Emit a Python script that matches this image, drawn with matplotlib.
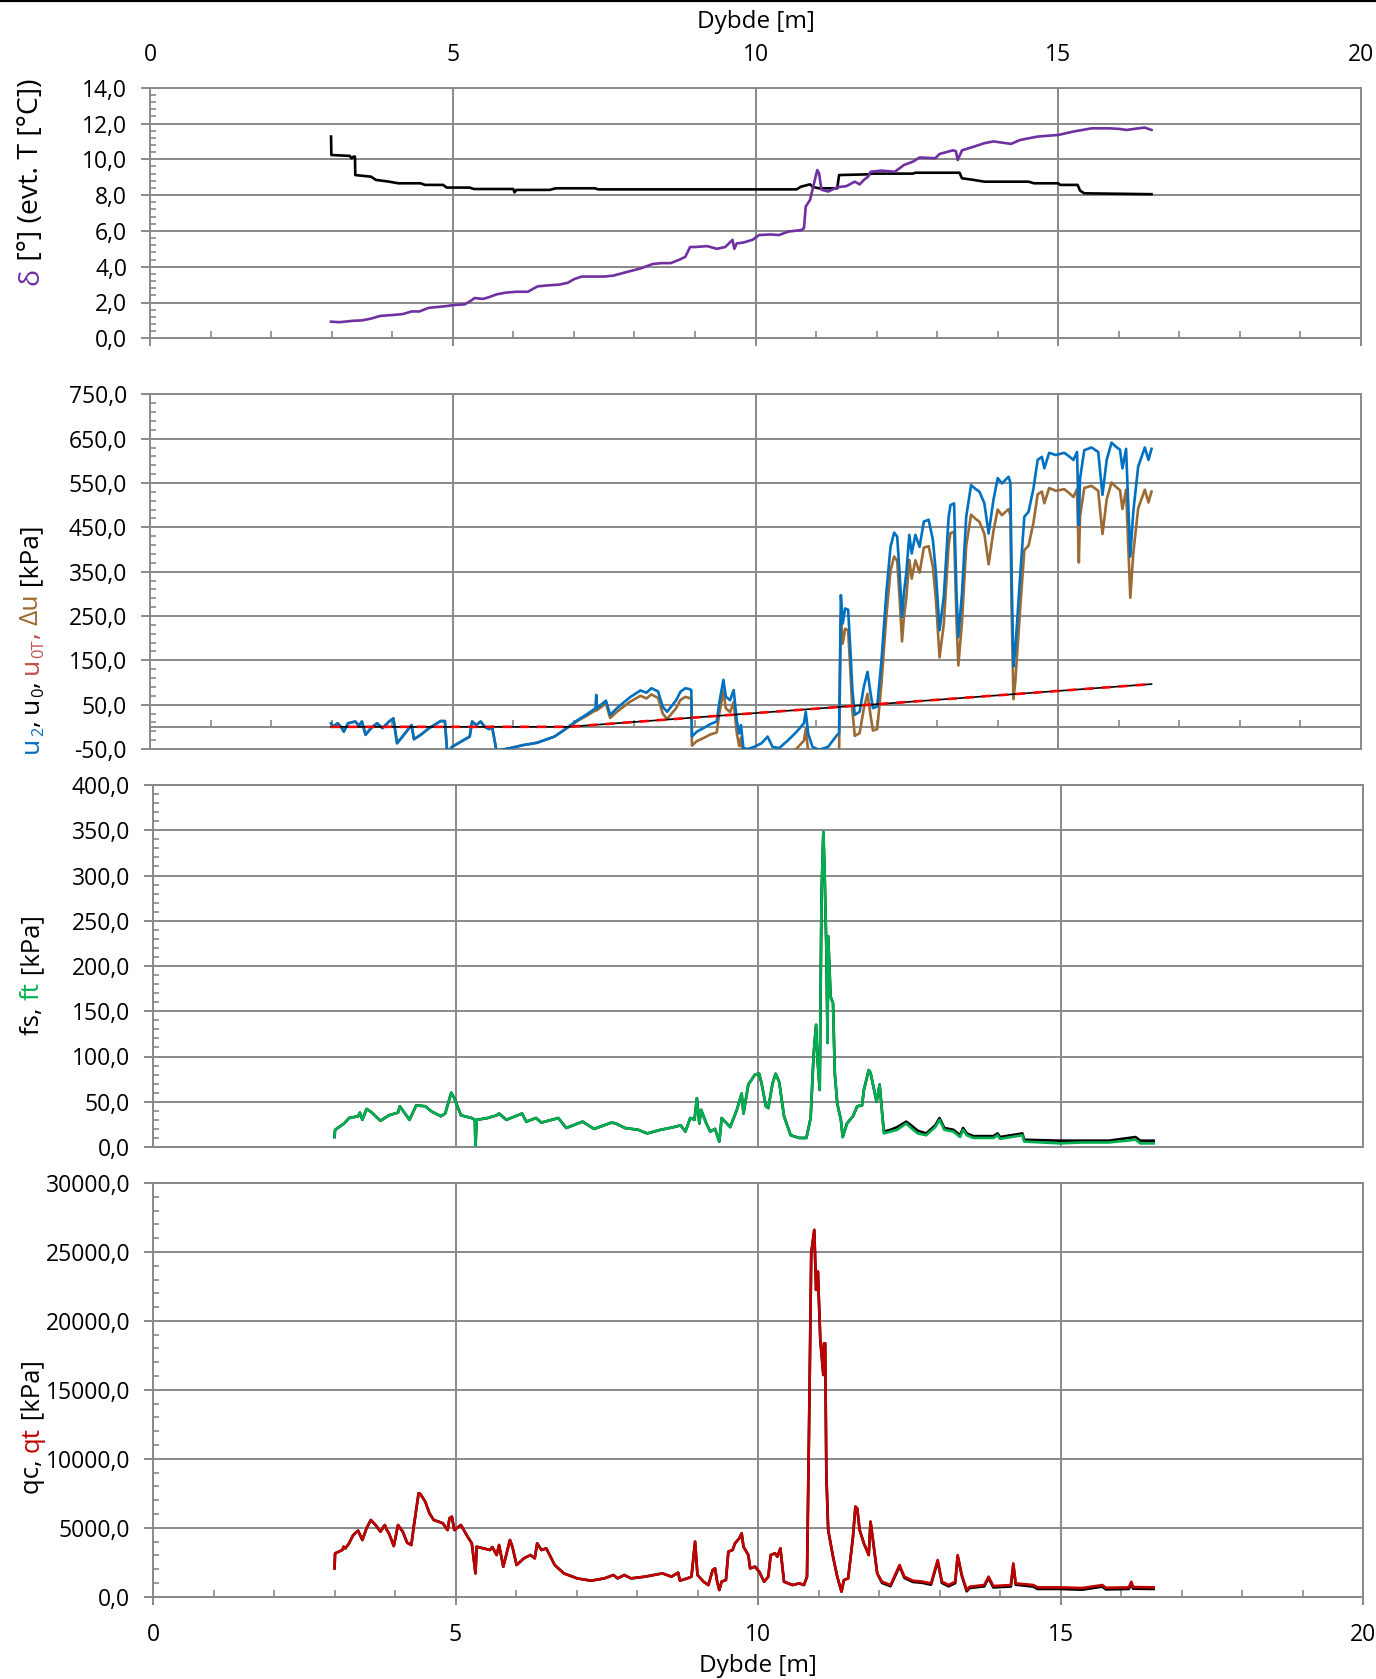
import numpy as np
import matplotlib
matplotlib.use("Agg")
import matplotlib.pyplot as plt
from matplotlib.ticker import FixedLocator, FuncFormatter
from matplotlib.transforms import IdentityTransform
from matplotlib.lines import Line2D

plt.rcParams['font.family'] = ['Open Sans', 'DejaVu Sans']

# ---------------------------------------------------------------- data
# inclination (delta) and temperature vs depth
delta_depth = [2.99, 3.13, 3.36, 3.5, 3.65, 3.8, 4.0, 4.17, 4.32, 4.45, 4.6, 4.75, 4.9, 5.0, 5.2,
               5.3, 5.36, 5.5, 5.6, 5.72, 5.87, 6.05, 6.24, 6.4, 6.55, 6.76, 6.9, 7.0, 7.13, 7.3,
               7.5, 7.65, 7.87, 8.1, 8.3, 8.45, 8.6, 8.75, 8.84, 8.92, 9.0, 9.2, 9.36, 9.5, 9.62,
               9.65, 9.69, 9.8, 9.95, 10.06, 10.24, 10.39, 10.54, 10.76, 10.8, 10.83, 10.9, 10.94,
               10.98, 11.02, 11.05, 11.09, 11.2, 11.35, 11.5, 11.64, 11.72, 11.79, 11.86, 11.9,
               12.08, 12.3, 12.45, 12.6, 12.71, 12.97, 13.04, 13.26, 13.31, 13.34, 13.41, 13.6,
               13.78, 13.93, 14.22, 14.37, 14.66, 15.0, 15.25, 15.55, 15.84, 16.0, 16.13, 16.3,
               16.43, 16.54]
delta_deg = [0.93, 0.9, 0.98, 1.0, 1.1, 1.25, 1.3, 1.35, 1.5, 1.5, 1.7, 1.75, 1.8, 1.85, 1.9,
             2.1, 2.25, 2.2, 2.3, 2.45, 2.55, 2.6, 2.6, 2.9, 2.95, 3.0, 3.1, 3.3, 3.45, 3.45,
             3.45, 3.5, 3.7, 3.9, 4.15, 4.2, 4.2, 4.4, 4.55, 5.1, 5.1, 5.15, 5.0, 5.1, 5.5,
             5.0, 5.3, 5.35, 5.5, 5.77, 5.8, 5.77, 5.96, 6.05, 6.15, 7.36, 7.73, 8.29,
             8.85, 9.4, 9.2, 8.3, 8.2, 8.44, 8.5, 8.75, 8.6, 8.85, 9.03, 9.3,
             9.37, 9.3, 9.68, 9.87, 10.1, 10.06, 10.3, 10.5, 10.45, 9.96, 10.5, 10.7,
             10.9, 11.0, 10.86, 11.08, 11.27, 11.36, 11.55, 11.73, 11.73, 11.7, 11.64, 11.72,
             11.77, 11.64]

temp_depth = [2.99, 2.995, 3.3, 3.33, 3.36, 3.385, 3.39, 3.65, 3.73, 3.95, 4.1, 4.47, 4.54,
              4.84, 4.9, 5.28, 5.35, 6.0, 6.02, 6.05, 6.6, 6.7, 7.35, 7.4, 10.68, 10.75, 10.9,
              10.95, 11.05, 11.35, 11.38, 11.86, 11.93, 12.6, 12.64, 13.37, 13.41, 13.6, 13.78,
              14.51, 14.6, 15.0, 15.03, 15.32, 15.36, 15.43, 16.54]
temp_c = [11.27, 10.24, 10.19, 10.05, 10.15, 10.15, 9.12, 9.03, 8.85, 8.75, 8.66, 8.66, 8.57,
          8.57, 8.42, 8.42, 8.34, 8.34, 8.15, 8.29, 8.29, 8.38, 8.38, 8.32, 8.32, 8.47, 8.6,
          8.45, 8.38, 8.38, 9.12, 9.16, 9.2, 9.2, 9.25, 9.25, 8.94, 8.85, 8.75,
          8.75, 8.66, 8.66, 8.57, 8.57, 8.25, 8.1, 8.05]

# pore pressure u2 and hydrostatic pressure u0 / u0T
u2_depth = [2.99, 3.02, 3.1, 3.17, 3.2, 3.27, 3.39, 3.45, 3.5, 3.56, 3.65, 3.75, 3.84, 3.95,
            4.02, 4.08, 4.17, 4.25, 4.32, 4.36, 4.47, 4.61, 4.8, 4.87, 4.91, 4.99, 5.28, 5.32,
            5.39, 5.46, 5.53, 5.6, 5.65, 5.73, 5.8, 5.95, 6.17, 6.39, 6.68, 6.84, 7.06, 7.2,
            7.36, 7.37, 7.38, 7.53, 7.6, 7.71, 7.93, 8.1, 8.2, 8.28, 8.39, 8.47, 8.54, 8.69,
            8.76, 8.84, 8.91, 8.94, 8.95, 9.03, 9.14, 9.25, 9.36, 9.4, 9.47, 9.51, 9.58, 9.64,
            9.69, 9.73, 9.76, 9.8, 9.87, 9.98, 10.1, 10.2, 10.28, 10.39, 10.54, 10.68, 10.8,
            10.83, 10.87, 10.94, 11.05, 11.2, 11.35, 11.38, 11.41, 11.44, 11.48, 11.53, 11.57,
            11.6, 11.64, 11.72, 11.79, 11.85, 11.9, 11.94, 12.01, 12.08, 12.16, 12.23, 12.29,
            12.34, 12.38, 12.42, 12.45, 12.49, 12.54, 12.58, 12.64, 12.71, 12.78, 12.86, 12.93,
            12.98, 13.04, 13.11, 13.19, 13.22, 13.28, 13.32, 13.35, 13.41, 13.48, 13.56, 13.63,
            13.7, 13.78, 13.85, 13.93, 14.0, 14.07, 14.18, 14.21, 14.23, 14.26, 14.29, 14.37,
            14.44, 14.51, 14.59, 14.66, 14.73, 14.77, 14.85, 14.96, 15.1, 15.18, 15.25, 15.31,
            15.34, 15.36, 15.43, 15.55, 15.66, 15.73, 15.8, 15.88, 15.95, 16.02, 16.06, 16.12,
            16.19, 16.24, 16.32, 16.43, 16.49, 16.54]
u2_kpa = [8, 0, 8, -3, -11, 8, 12, 3, 12, -18, -3, 8, -3, 12,
          19, -37, -22, -8, 4, -28, -18, -3, 13, 13, -60, -45, -22, 12,
          4, 12, 0, -5, 0, -60, -52, -48, -41, -36, -22, -7, 15, 27,
          42, 72, 42, 59, 27, 42, 67, 82, 77, 87, 80, 45, 34, 60,
          79, 87, 85, 83, -22, -11, -3, 6, 12, 53, 106, 68, 60, 83,
          15, -15, 4, -48, -50, -45, -37, -22, -45, -48, -30, -11, 8,
          34, -15, -45, -52, -45, -18, -15, 297, 233, 267, 264, 166,
          83, 27, 34, 91, 124, 76, 42, 46, 149, 301, 406, 438,
          429, 346, 248, 301, 346, 433, 391, 433, 406, 463, 467, 421,
          346, 218, 294, 474, 500, 504, 301, 203, 301, 474, 545, 537,
          530, 504, 436, 512, 561, 549, 564, 550, 339, 136, 174, 339,
          474, 485, 537, 602, 609, 583, 618, 613, 618, 610, 602, 620,
          455, 560, 624, 630, 620, 523, 602, 641, 632, 625, 583, 627,
          384, 486, 587, 630, 602, 627]
u0_depth = [2.99, 6.9, 16.54]
u0_kpa = [0.0, 0.0, 96.4]

# sleeve friction
ft_depth = [3.0, 3.01, 3.16, 3.24, 3.39, 3.42, 3.46, 3.53, 3.6, 3.76, 3.9, 4.05, 4.08, 4.24,
            4.35, 4.5, 4.61, 4.76, 4.83, 4.93, 4.98, 5.09, 5.27, 5.32, 5.33, 5.35, 5.53, 5.68,
            5.72, 5.84, 5.95, 6.1, 6.17, 6.33, 6.42, 6.7, 6.83, 7.1, 7.29, 7.58, 7.65, 7.8,
            8.02, 8.17, 8.39, 8.61, 8.72, 8.8, 8.88, 8.95, 8.99, 9.03, 9.06, 9.14, 9.21, 9.29,
            9.36, 9.4, 9.54, 9.65, 9.73, 9.76, 9.84, 9.95, 10.02, 10.06, 10.13, 10.17, 10.24,
            10.29, 10.35, 10.43, 10.54, 10.68, 10.8, 10.87, 10.92, 10.96, 10.98, 11.02, 11.05,
            11.08, 11.1, 11.13, 11.15, 11.16, 11.2, 11.24, 11.27, 11.31, 11.37, 11.4, 11.47,
            11.57, 11.64, 11.72, 11.75, 11.83, 11.86, 11.9, 11.96, 12.01, 12.08, 12.19, 12.3,
            12.45, 12.53, 12.64, 12.78, 12.93, 13.0, 13.08, 13.23, 13.34, 13.39, 13.45, 13.56,
            13.89, 13.96, 14.0, 14.37, 14.4, 14.99, 15.36, 15.8, 16.24, 16.32, 16.54]
ft_kpa = [11, 19, 26, 32, 34, 38, 30, 42, 39, 29, 35, 38, 45, 30,
          46, 45, 39, 34, 37, 60, 54, 35, 32, 30, 0, 30, 32, 35,
          37, 30, 33, 37, 28, 32, 27, 32, 21, 28, 20, 27, 26, 21,
          19, 15, 19, 22, 24, 17, 32, 30, 54, 26, 41, 27, 17, 20,
          6, 32, 22, 41, 59, 37, 69, 80, 81, 70, 45, 43, 70,
          81, 72, 34, 13, 10, 10, 32, 103, 135, 100, 63, 280,
          348, 306, 218, 115, 233, 166, 159, 81, 48, 30, 11, 26,
          34, 45, 46, 63, 85, 82, 69, 50, 69, 15, 17, 19,
          26, 21, 15, 13, 22, 30, 19, 17, 11, 19, 13, 10,
          10, 13, 9, 13, 6, 4, 5, 5, 8, 4, 4]
fs_tail_depth = [12.08, 12.19, 12.3, 12.45, 12.53, 12.64, 12.78, 12.93, 13.0, 13.08, 13.23,
                 13.34, 13.39, 13.45, 13.56, 13.89, 13.96, 14.0, 14.37, 14.4, 14.99, 15.36,
                 15.8, 16.24, 16.32, 16.54]
fs_tail_kpa = [17, 19, 22, 28, 24, 18, 15, 24, 32, 21, 19,
               13, 21, 15, 12, 12, 15, 11, 15, 8, 7, 7,
               7, 11, 7, 7]

# cone resistance
qt_depth = [3.0, 3.01, 3.13, 3.15, 3.18, 3.24, 3.31, 3.39, 3.42, 3.46, 3.53, 3.6, 3.68, 3.76,
            3.83, 3.87, 3.9, 3.98, 4.05, 4.13, 4.2, 4.27, 4.31, 4.39, 4.42, 4.5, 4.57, 4.64,
            4.72, 4.79, 4.87, 4.9, 4.94, 4.98, 5.09, 5.2, 5.27, 5.33, 5.35, 5.46, 5.57, 5.61,
            5.68, 5.72, 5.79, 5.9, 5.94, 6.01, 6.13, 6.24, 6.31, 6.35, 6.42, 6.5, 6.64, 6.79,
            7.01, 7.24, 7.46, 7.61, 7.68, 7.79, 7.9, 8.13, 8.42, 8.57, 8.68, 8.71, 8.83, 8.9,
            8.96, 9.0, 9.1, 9.18, 9.25, 9.29, 9.32, 9.36, 9.4, 9.47, 9.51, 9.58, 9.62, 9.69,
            9.73, 9.76, 9.84, 9.87, 9.95, 10.02, 10.1, 10.17, 10.21, 10.28, 10.32, 10.37, 10.43,
            10.57, 10.68, 10.76, 10.81, 10.85, 10.88, 10.93, 10.96, 10.99, 11.03, 11.08, 11.09,
            11.11, 11.13, 11.16, 11.24, 11.31, 11.38, 11.42, 11.49, 11.57, 11.61, 11.64, 11.68,
            11.75, 11.83, 11.86, 11.9, 11.97, 12.05, 12.19, 12.34, 12.42, 12.56, 12.71, 12.86,
            12.97, 13.04, 13.15, 13.26, 13.3, 13.37, 13.45, 13.5, 13.74, 13.81, 13.89, 14.18,
            14.22, 14.26, 14.55, 14.62, 14.99, 15.36, 15.69, 15.75, 16.13, 16.17, 16.2, 16.54]
qt_kpa = [2055, 3143, 3385, 3627, 3500, 3869, 4473, 4788, 4500, 4111, 4957, 5561, 5199, 4715,
          5199, 4800, 4594, 3675, 5199, 4700, 3917, 3748, 5078, 7496, 7450, 6891, 6045, 5561,
          5441, 5320, 4836, 5682, 5803, 4836, 5199, 4352, 3869, 1693, 3627, 3506, 3385, 3600,
          3023, 3748, 2176, 4111, 3627, 2297, 2781, 3023, 2781, 3869, 3385, 3506, 2297, 1693,
          1330, 1161, 1330, 1572, 1330, 1572, 1330, 1451, 1693, 1451, 1741, 1161, 1330, 1451,
          3990, 1572, 1088, 846, 1934, 2055, 1209, 484, 1100, 1209, 3264, 3385, 3869, 4232,
          4594, 3627, 3023, 2055, 2176, 1814, 1088, 1451, 3023, 3143, 2902, 3506, 1088,
          846, 967, 846, 1451, 14266, 24905, 26598, 22246, 23576, 18619, 16080, 18377,
          18377, 8826, 4836, 2902, 1451, 363, 1209, 1330, 4352, 6529, 6408, 4836,
          3869, 3023, 5441, 4111, 1693, 1088, 846, 2297, 1451, 1161, 1100, 967,
          2660, 1100, 846, 1088, 3023, 1572, 484, 725, 846, 1451, 774, 846,
          2418, 967, 846, 677, 677, 629, 846, 650, 677, 1088, 700, 677]
qc_tail_depth = [12.05, 12.19, 12.34, 12.42, 12.56, 12.71, 12.86, 12.97, 13.04, 13.15, 13.26,
                 13.3, 13.37, 13.45, 13.5, 13.74, 13.81, 13.89, 14.18, 14.22, 14.26, 14.55,
                 14.62, 14.99, 15.36, 15.69, 15.75, 16.13, 16.17, 16.2, 16.54]
qc_tail_kpa = [1000, 760, 2200, 1360, 1070, 1010, 870, 2560, 1000, 750, 990,
               2930, 1480, 390, 630, 750, 1350, 670, 740, 2320, 870, 730,
               560, 560, 510, 730, 530, 560, 970, 580, 560]

x_major = [0, 5, 10, 15, 20]
x_minor = list(range(0, 21))

# ---------------------------------------------------------------- figure
W, H = 1376, 1679
fig = plt.figure(figsize=(W / 100, H / 100), dpi=100)

GRID = '#898989'
PURPLE = '#7030a0'
BLUE = '#0070c0'
BROWN = '#9c6a33'
GREEN = '#00b050'
DARKRED = '#c00000'
LABEL_RED = '#c0504d'
TICK_SIZE = 16.5
TITLE_SIZE = 17.5
LW = 1.9


def comma_fmt(v, pos):
    return f"{v:.1f}".replace('.', ',')


def frame(ax, ylim, ymaj, ymin):
    ax.set_xlim(0, 20)
    ax.set_ylim(*ylim)
    for sp in ax.spines.values():
        sp.set_color(GRID)
        sp.set_linewidth(1.4)
    ax.yaxis.set_major_locator(FixedLocator(ymaj))
    ax.yaxis.set_minor_locator(FixedLocator(ymin))
    ax.yaxis.set_major_formatter(FuncFormatter(comma_fmt))
    ax.tick_params(axis='y', which='major', direction='out', length=6.5, width=1.4,
                   color=GRID, labelsize=TICK_SIZE, pad=10, right=False)
    ax.tick_params(axis='y', which='minor', direction='in', length=4.3, width=1.2,
                   color=GRID, right=False)
    ax.xaxis.set_major_locator(FixedLocator(x_major))
    ax.xaxis.set_minor_locator(FixedLocator(x_minor))
    ax.tick_params(axis='x', which='major', direction='out', length=5.8, width=1.4,
                   color=GRID, labelsize=TICK_SIZE, top=False)
    ax.tick_params(axis='x', which='minor', direction='in', length=5.0, width=1.2,
                   color=GRID, top=False)
    for y in ymaj:
        ax.axhline(y, color=GRID, lw=1.4, zorder=0.6, clip_on=False)
    for x in (5, 10, 15):
        ax.axvline(x, color=GRID, lw=1.4, zorder=0.6)


def box(l, r, t, b):
    return [l / W, 1 - b / H, (r - l) / W, (b - t) / H]


ax1 = fig.add_axes(box(150, 1361, 87.7, 338.3))
ax2 = fig.add_axes(box(150, 1361, 394.3, 749.0))
ax3 = fig.add_axes(box(153, 1363, 785.0, 1147.0))
ax4 = fig.add_axes(box(153, 1363, 1183.0, 1596.7))

# panel 1: inclination and temperature
frame(ax1, (0, 14), np.arange(0, 14.01, 2), np.arange(0, 14.01, 0.4))
ax1.tick_params(axis='x', which='both', labelbottom=False, labeltop=True, pad=9)
ax1.xaxis.set_label_position('top')
ax1.set_xlabel('Dybde [m]', fontsize=TITLE_SIZE, labelpad=11)
ax1.plot(temp_depth, temp_c, color='black', lw=LW, zorder=3)
ax1.plot(delta_depth, delta_deg, color=PURPLE, lw=LW, zorder=3)

# panel 2: pore pressures
frame(ax2, (-50, 750), np.arange(-50, 751, 100), np.arange(-50, 751, 20))
ax2.spines['bottom'].set_position(('data', 0))
ax2.tick_params(axis='x', which='both', labelbottom=False)
u0_at_u2 = np.interp(u2_depth, u0_depth, u0_kpa)
du_kpa = np.asarray(u2_kpa, float) - u0_at_u2
ax2.plot(u2_depth, du_kpa, color=BROWN, lw=LW, zorder=3)
ax2.plot(u2_depth, u2_kpa, color=BLUE, lw=LW, zorder=4)
ax2.plot(u0_depth, u0_kpa, color='black', lw=1.2, zorder=5)
ax2.plot(u0_depth, u0_kpa, color='#ff0000', lw=1.9, ls=(0, (3.5, 3.0)), zorder=6)

# panel 3: sleeve friction
frame(ax3, (0, 400), np.arange(0, 401, 50), np.arange(0, 401, 10))
ax3.tick_params(axis='x', which='both', length=0, labelbottom=False)
ft_depth_arr = np.asarray(ft_depth)
keep = ft_depth_arr < fs_tail_depth[0]
fs_depth = list(ft_depth_arr[keep]) + fs_tail_depth
fs_kpa = list(np.asarray(ft_kpa)[keep]) + fs_tail_kpa
ax3.plot(fs_depth, fs_kpa, color='black', lw=LW, zorder=3)
ax3.plot(ft_depth, ft_kpa, color=GREEN, lw=LW, zorder=4)

# panel 4: cone resistance
frame(ax4, (0, 30000), np.arange(0, 30001, 5000), np.arange(0, 30001, 1000))
ax4.tick_params(axis='x', which='both', labelbottom=True, pad=13)
ax4.set_xlabel('Dybde [m]', fontsize=TITLE_SIZE, labelpad=5)
qt_depth_arr = np.asarray(qt_depth)
keep = qt_depth_arr < qc_tail_depth[0]
qc_depth = list(qt_depth_arr[keep]) + qc_tail_depth
qc_kpa = list(np.asarray(qt_kpa)[keep]) + qc_tail_kpa
ax4.plot(qc_depth, qc_kpa, color='black', lw=LW, zorder=3)
ax4.plot(qt_depth, qt_kpa, color=DARKRED, lw=LW, zorder=4)

# thin rule along the top edge
fig.add_artist(Line2D([0, 1], [1 - 1.0 / H, 1 - 1.0 / H], color='black', lw=1.6,
                      transform=fig.transFigure))

# ---------------------------------------------------------------- multi-coloured axis titles
renderer = fig.canvas.get_renderer()


def advance(s, size):
    a = fig.text(0, 0, '|' + s + '|', fontsize=size)
    b = fig.text(0, 0, '||', fontsize=size)
    w = a.get_window_extent(renderer).width - b.get_window_extent(renderer).width
    a.remove()
    b.remove()
    return w


def vertical_title(x_base, y_center, parts, size):
    """Stack coloured pieces along a vertical baseline (pixel coordinates, y from top)."""
    lengths = [advance(s, size * rel) for s, c, rel, drop in parts]
    y = (H - y_center) - sum(lengths) / 2
    for (s, c, rel, drop), L in zip(parts, lengths):
        fig.text(x_base + drop, y, s, color=c, fontsize=size * rel, rotation=90,
                 rotation_mode='anchor', ha='left', va='baseline',
                 transform=IdentityTransform())
        y += L


vertical_title(38, 182, [('δ', PURPLE, 1, 0), (' [°] (evt. T [°C])', 'black', 1, 0)], 20.5)
vertical_title(38, 639, [('u', BLUE, 1, 0), ('2', BLUE, 0.62, 5), (', ', 'black', 1, 0),
                         ('u', 'black', 1, 0), ('0', 'black', 0.62, 5), (', ', 'black', 1, 0),
                         ('u', LABEL_RED, 1, 0), ('0T', LABEL_RED, 0.62, 5),
                         (', ', LABEL_RED, 1, 0), ('Δu', BROWN, 1, 0),
                         (' [kPa]', 'black', 1, 0)], 19.0)
vertical_title(39, 975, [('fs, ', 'black', 1, 0), ('ft', GREEN, 1, 0),
                         (' [kPa]', 'black', 1, 0)], 18.5)
vertical_title(39, 1427, [('qc, ', 'black', 1, 0), ('qt', DARKRED, 1, 0),
                          (' [kPa]', 'black', 1, 0)], 18.5)

fig.savefig('out.png', dpi=100)
